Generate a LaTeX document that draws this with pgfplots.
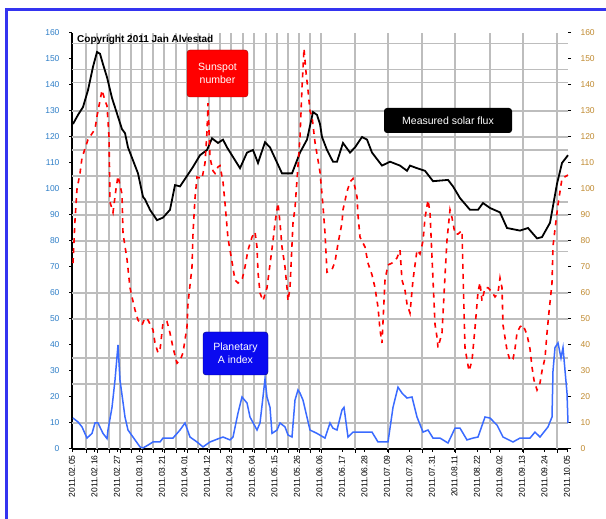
\documentclass[border=0pt]{standalone}
\usepackage{pgfplots}
\pgfplotsset{compat=1.18}
\usepackage{fontspec}
\setmainfont{Liberation Sans}
\definecolor{gridgray}{HTML}{BDBDBD}
\definecolor{apblue}{HTML}{3A6BFF}
\definecolor{leftlab}{HTML}{2F7FC8}
\definecolor{rightlab}{HTML}{C08A30}
\definecolor{frameblue}{HTML}{3434F0}
\definecolor{boxblue}{HTML}{0A0AF0}
\begin{document}
\begin{tikzpicture}[x=1pt,y=1pt]
\path[use as bounding box] (0,0) rectangle (606,519);
\fill[white] (0,0) rectangle (606,519);
\draw[frameblue, line width=3pt] (6,-2) -- (6,509) -- (608,509);

% right-hand tick labels
\begin{axis}[
  scale only axis, width=496pt, height=416pt,
  at={(72pt,70pt)}, anchor=south west,
  xmin=0, xmax=496, ymin=0, ymax=160,
  axis x line=none, axis y line*=right,
  y axis line style={draw=none},
  ytick={0,10,...,160},
  /pgf/number format/assume math mode=true,
  yticklabel style={text=rightlab, font=\fontsize{8.5}{9}\selectfont, xshift=6pt},
  tick align=outside, major tick length=3pt,
  tick style={black, line width=1pt},
]
\addplot[draw=none] coordinates {(0,0)};
\end{axis}

\begin{axis}[
  scale only axis, width=496pt, height=416pt,
  at={(72pt,70pt)}, anchor=south west,
  xmin=0, xmax=496, ymin=0, ymax=160,
  axis x line*=bottom, axis y line*=left,
  axis line style={black, line width=1.3pt, -},
  /pgf/number format/assume math mode=true,
  xtick={0,22.5,45,67.5,90,112.5,135,157.5,180,202.5,225,247.5,270,292.5,315,337.5,360,382.5,405,427.5,450,472.5,495},
  xticklabels={2011.02.05,2011.02.16,2011.02.27,2011.03.10,2011.03.21,2011.04.01,2011.04.12,2011.04.23,2011.05.04,2011.05.15,2011.05.26,2011.06.06,2011.06.17,2011.06.28,2011.07.09,2011.07.20,2011.07.31,2011.08.11,2011.08.22,2011.09.02,2011.09.13,2011.09.24,2011.10.05},
  xticklabel style={rotate=90, anchor=east, font=\fontsize{8.5}{9}\selectfont, text=black},
  ytick={0,10,...,160},
  yticklabel style={text=leftlab, font=\fontsize{8.5}{9}\selectfont, xshift=-6pt},
  tick align=outside, major tick length=3pt,
  tick style={black, line width=1pt},
  xmajorgrids=false, ymajorgrids=false,
  extra x ticks={14,25,37,48,59,70,81,92,104,115,126,137,148,159,171,182,194,205,216,227,238,249,283,316,350,383,418,451,485},
  extra x tick labels={},
  extra x tick style={xmajorgrids=true, major tick length=4pt, tick style={black, line width=0.8pt}},
  extra y ticks={10,25,35,50,60,76,80,90,95,105,115,120,130,141,146,156},
  extra y tick labels={},
  extra y tick style={ymajorgrids=true, major tick length=0pt},
  major grid style={gridgray, line width=1.4pt},
  clip=false,
]
% Measured solar flux
\addplot[black, line width=1.8pt] coordinates {
(1,125) (6,128.5) (11,131.5) (16,138) (21,147) (25,152.7) (28,152) (31,148) (35,143) (40,135) (45,129) (50,123) (53,121.5) (56,116) (61,111) (66,106) (71,97) (73,96) (78,92) (85,88) (91,89) (98,92) (103,101.5) (108,101) (115,105) (121,108.5) (128,113) (135,115) (140,119.5) (146,117.7) (151,119) (155,116) (168,108) (175,114) (181,115) (186,110) (193,118) (198,116) (210,106) (220,106) (228,114) (235,119) (241,129.6) (245,128.5) (248,125) (250,120) (255,115) (261,110.5) (265,110.5) (271,117.7) (278,114) (283,116) (290,120) (295,119) (300,114) (310,109) (318,110.5) (328,109) (335,107) (338,109) (345,108) (353,107) (361,103) (376,103.5) (381,101) (388,96.5) (398,92) (406,92) (411,94.6) (418,92.7) (428,91) (435,85) (448,84) (456,85) (465,81) (470,81.5) (478,87) (485,102) (490,110) (496,113)
};
% Sunspot number
\addplot[red, line width=1.6pt, dash pattern=on 5pt off 5pt] coordinates {
(1,71.5) (3,88) (5,100) (8,106) (10,112) (16,119) (23,123) (25,128) (30,138) (33,134) (35,132) (37,120) (38,95) (41,91) (44,100) (46,105) (50,98) (51,83) (55,73) (58,62) (60,58.5) (63,53.5) (66,49.6) (70,47.7) (73,50.4) (76,49.6) (81,45.8) (83,40.8) (86,37) (88,38) (91,48.5) (95,49) (98,44.6) (101,39) (105,33) (108,34) (111,37) (115,47) (116,56) (120,70) (121,83) (123,96.5) (125,104.6) (130,104) (133,110) (135,122) (136,133) (138,112) (141,107) (143,106) (146,108.5) (148,109) (151,102.7) (153,94.6) (156,81) (160,72) (163,65) (166,63.8) (170,65) (173,70) (176,76.5) (180,81.5) (183,83.5) (185,77.7) (186,68) (188,60) (191,57) (195,62) (198,71) (201,80) (203,87) (206,94.6) (208,87) (210,77.7) (213,70) (215,62) (216,57) (218,62) (221,87) (223,92.7) (225,103.5) (228,120) (230,139) (232,154) (234,145) (236,138) (238,130) (240,128) (243,118) (248,106.5) (251,93.5) (253,83) (255,68) (260,69) (263,72) (266,79) (268,83) (270,87) (271,92) (275,99) (278,102.7) (281,104) (285,97) (286,90) (288,81.5) (293,77.7) (296,71.5) (300,67) (303,62) (306,54.6) (308,45.8) (310,40.8) (313,65) (316,70.8) (320,71.5) (325,73.5) (328,76.5) (330,65) (333,61) (335,55.8) (338,52.3) (341,65) (345,76.5) (348,75) (351,80) (353,88.8) (356,95.8) (358,91) (363,48) (365,43) (366,39) (370,44.6) (373,66.5) (375,80.4) (378,92) (380,89) (383,82.7) (386,82.7) (390,84) (391,68) (393,38.8) (397,30) (400,34) (403,46.5) (406,60.4) (408,64) (410,57) (413,62) (416,62) (420,60.4) (423,58.5) (426,60) (428,65.8) (430,62) (431,47.7) (435,38) (438,34) (441,34.6) (443,38.5) (445,44.6) (448,47) (451,47.7) (455,44) (458,38.5) (460,31.5) (462,26.5) (465,22.7) (468,25.4) (470,30) (473,35) (475,44.6) (477,52.7) (480,63.8) (481,78) (484,87.7) (486,94) (490,104) (496,105.4)
};
% Planetary A index
\addplot[apblue, line width=1.5pt] coordinates {
(1,11.9) (6,10.4) (10,8.5) (15,4.2) (20,6) (23,10) (26,10) (31,6) (35,4) (36,7.3) (40,16) (43,26.5) (46,40) (48,26.5) (53,12.3) (56,7.3) (68,0.8) (71,0.4) (76,1.5) (81,2.7) (88,2.7) (91,4.2) (101,4.2) (108,7.3) (113,10) (118,4.6) (125,2.7) (131,0.8) (138,2.7) (148,4.2) (151,4.6) (158,3.5) (161,4.6) (166,13.8) (170,20) (175,17.7) (178,12.3) (185,7.3) (188,10) (191,20) (193,27) (195,20) (198,16) (200,6) (205,7.3) (208,10) (213,8.5) (216,5.4) (220,4.6) (223,18.8) (226,22.7) (228,21.5) (231,18.8) (238,7.3) (245,6) (253,4.2) (258,10) (261,8) (265,7.3) (270,15) (272,16) (276,4.6) (281,6.5) (300,6.5) (306,2.7) (316,2.7) (321,16) (326,23.8) (330,21.5) (335,19.6) (340,20) (345,12.3) (351,6.5) (356,7.3) (361,4.2) (368,4.2) (376,2.3) (383,8) (388,8) (395,3.5) (401,4.2) (406,4.6) (413,12.3) (418,11.9) (425,9.2) (431,4.6) (441,2.7) (448,4.2) (458,4.2) (463,6.5) (468,4.6) (476,8.5) (480,12.3) (481,30) (483,39) (486,40.8) (489,35) (491,39) (495,21.5) (496,10)
};
\end{axis}

\node[anchor=west, font=\bfseries\fontsize{10}{11}\selectfont, inner sep=0pt] at (77,479) {Copyright 2011 Jan Alvestad};
\node[fill=red, draw=red!60!black, rounded corners=3pt, text=white, align=center,
      font=\fontsize{10.5}{12.5}\selectfont, minimum width=61pt, minimum height=47pt, inner sep=1pt]
      at (217.5,445.5) {Sunspot\\number};
\node[fill=black, rounded corners=3pt, text=white,
      font=\fontsize{10.5}{12}\selectfont, minimum width=128pt, minimum height=25pt, inner sep=1pt]
      at (448,398.5) {Measured solar flux};
\node[fill=boxblue, draw=blue!50!black, rounded corners=3pt, text=white, align=center,
      font=\fontsize{10.5}{12.5}\selectfont, minimum width=65pt, minimum height=43pt, inner sep=1pt]
      at (235.5,165.5) {Planetary\\A index};
\end{tikzpicture}
\end{document}
